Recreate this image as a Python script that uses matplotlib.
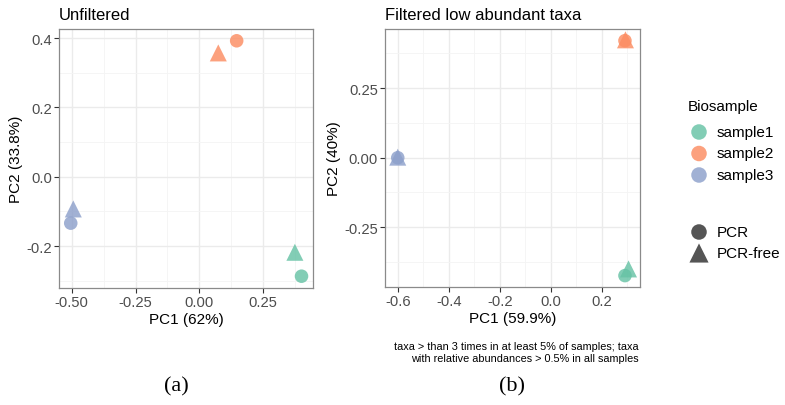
import matplotlib
matplotlib.use("Agg")
import matplotlib.pyplot as plt

plt.rcParams['font.family'] = ['Liberation Sans', 'DejaVu Sans']

samples = ["sample1", "sample2", "sample3"]
colors = ["#66C2A5", "#FC8D62", "#8DA0CB"]
methods = ["PCR", "PCR-free"]

# Unfiltered panel (per sample: PCR, PCR-free)
unf_pc1 = {"sample1": [0.400, 0.374], "sample2": [0.146, 0.074], "sample3": [-0.504, -0.494]}
unf_pc2 = {"sample1": [-0.287, -0.218], "sample2": [0.392, 0.357], "sample3": [-0.134, -0.093]}

# Filtered panel
fil_pc1 = {"sample1": [0.291, 0.305], "sample2": [0.291, 0.293], "sample3": [-0.600, -0.600]}
fil_pc2 = {"sample1": [-0.424, -0.400], "sample2": [0.421, 0.424], "sample3": [0.000, 0.002]}

unf_xticks = [-0.50, -0.25, 0.00, 0.25]
unf_xticklabels = ["-0.50", "-0.25", "0.00", "0.25"]
unf_yticks = [-0.2, 0.0, 0.2, 0.4]
unf_yticklabels = ["-0.2", "0.0", "0.2", "0.4"]
fil_xticks = [-0.6, -0.4, -0.2, 0.0, 0.2]
fil_xticklabels = ["-0.6", "-0.4", "-0.2", "0.0", "0.2"]
fil_yticks = [-0.25, 0.0, 0.25]
fil_yticklabels = ["-0.25", "0.00", "0.25"]

W, H = 785, 406
fig = plt.figure(figsize=(W / 100, H / 100), dpi=100)

def axes_px(x0, y0, x1, y1):
    return fig.add_axes([x0 / W, 1 - y1 / H, (x1 - x0) / W, (y1 - y0) / H])

marker_of = {"PCR": "o", "PCR-free": "^"}
size_of = {"PCR": 95, "PCR-free": 150}
ALPHA = 0.82

def style(ax, xlim, ylim, xt, xtl, yt, ytl, xminor, yminor):
    ax.set_xlim(*xlim)
    ax.set_ylim(*ylim)
    ax.set_xticks(xt)
    ax.set_xticklabels(xtl)
    ax.set_yticks(yt)
    ax.set_yticklabels(ytl)
    ax.set_xticks(xminor, minor=True)
    ax.set_yticks(yminor, minor=True)
    ax.grid(True, which="major", color="#EBEBEB", linewidth=1.0, zorder=0)
    ax.grid(True, which="minor", color="#F4F4F4", linewidth=0.6, zorder=0)
    ax.set_axisbelow(True)
    ax.tick_params(which="major", length=3.5, width=0.8, color="#333333",
                   labelsize=10.6, labelcolor="#4D4D4D", pad=1.5)
    ax.tick_params(which="minor", length=0)
    for sp in ax.spines.values():
        sp.set_color("#8A8A8A")
        sp.set_linewidth(0.9)

def draw(ax, pc1, pc2):
    for s, c in zip(samples, colors):
        for i, m in enumerate(methods):
            ax.scatter([pc1[s][i]], [pc2[s][i]], s=size_of[m], marker=marker_of[m],
                       color=c, alpha=ALPHA, edgecolors="none", zorder=3)

# Left panel
ax1 = axes_px(59, 30, 313, 289)
style(ax1, (-0.55, 0.445), (-0.321, 0.426), unf_xticks, unf_xticklabels,
      unf_yticks, unf_yticklabels, [-0.375, -0.125, 0.125, 0.375], [-0.3, -0.1, 0.1, 0.3])
draw(ax1, unf_pc1, unf_pc2)
ax1.set_xlabel("PC1 (62%)", fontsize=11, labelpad=2)
ax1.set_ylabel("PC2 (33.8%)", fontsize=11, labelpad=2.5)
ax1.set_title("Unfiltered", fontsize=12, loc="left", pad=7)

# Right panel
ax2 = axes_px(385, 30, 640, 288)
style(ax2, (-0.650, 0.350), (-0.465, 0.463), fil_xticks, fil_xticklabels,
      fil_yticks, fil_yticklabels, [-0.5, -0.3, -0.1, 0.1, 0.3], [-0.375, -0.125, 0.125, 0.375])
draw(ax2, fil_pc1, fil_pc2)
ax2.set_xlabel("PC1 (59.9%)", fontsize=11, labelpad=2)
ax2.set_ylabel("PC2 (40%)", fontsize=11, labelpad=2.5)
ax2.set_title("Filtered low abundant taxa", fontsize=12, loc="left", pad=7)

fig.text(639 / W, 1 - 342 / H,
         "taxa > than 3 times in at least 5% of samples; taxa\nwith relative abundances > 0.5% in all samples",
         ha="right", va="top", fontsize=7.8, linespacing=1.2)

# Legend drawn in an overlay axes using pixel coordinates
lax = fig.add_axes([0, 0, 1, 1], facecolor="none")
lax.set_xlim(0, W)
lax.set_ylim(H, 0)
lax.axis("off")
lax.text(688, 107, "Biosample", fontsize=11, va="center", ha="left")
for j, (s, c) in enumerate(zip(samples, colors)):
    y = 133 + j * 21.5
    lax.scatter([699], [y], s=125, marker="o", color=c, alpha=ALPHA, edgecolors="none")
    lax.text(717, y, s, fontsize=11, va="center", ha="left")
for j, m in enumerate(methods):
    y = 233 + j * 21
    lax.scatter([699], [y], s=125 if m == "PCR" else 190, marker=marker_of[m],
                color="#555555", edgecolors="none")
    lax.text(717, y, m, fontsize=11, va="center", ha="left")

lax.text(176, 387, "(a)", ha="center", va="center", fontsize=16,
         family=["Liberation Serif", "DejaVu Serif"])
lax.text(512, 387, "(b)", ha="center", va="center", fontsize=16,
         family=["Liberation Serif", "DejaVu Serif"])

fig.savefig("out.png", dpi=100)
